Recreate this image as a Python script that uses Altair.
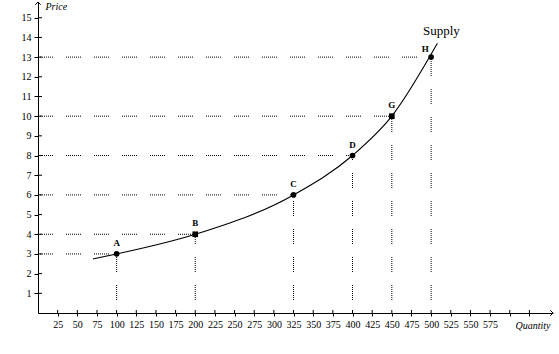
import altair as alt
import pandas as pd

# ---- data ----
point_labels = ["A", "B", "C", "D", "G", "H"]
point_quantity = [100, 200, 325, 400, 450, 500]
point_price = [3, 4, 6, 8, 10, 13]
point_marker = ["circle", "square", "circle", "circle", "square", "circle"]

curve_quantity = [70, 100, 200, 325, 400, 450, 508]
curve_price = [2.75, 3, 4, 6, 8, 10, 13.7]

x_ticks = list(range(25, 626, 25))
y_ticks = list(range(1, 16))

supply_text = ["Supply"]
supply_quantity = [513]
supply_price = [14.35]

X_MAX = 655
Y_MAX = 15.8
W, H = 515, 311
FONT = "Liberation Serif"

pts = pd.DataFrame({
    "label": point_labels, "q": point_quantity, "p": point_price,
    "shape": point_marker, "zero": [0] * len(point_labels),
})
curve = pd.DataFrame({"q": curve_quantity, "p": curve_price})
xt = pd.DataFrame({"q": x_ticks})
yt = pd.DataFrame({"p": y_ticks})
sup = pd.DataFrame({"text": supply_text, "q": supply_quantity, "p": supply_price})
corner = pd.DataFrame({"q": [0, X_MAX], "p": [Y_MAX, 0], "which": ["up", "right"]})

xs = alt.Scale(domain=[0, X_MAX], nice=False, zero=True)
ys = alt.Scale(domain=[0, Y_MAX], nice=False, zero=True)

x_axis = alt.Axis(values=x_ticks, labelExpr="datum.value <= 575 ? datum.label : ''",
                  tickSize=3, tickColor="black", domainColor="black", grid=False,
                  labelFont=FONT, labelFontSize=10, labelColor="black", labelPadding=3,
                  labelFlush=False, labelOverlap=False,
                  titleX=477, titleY=12, titleAlign="left",
                  titleBaseline="middle", titleFontStyle="italic", titleFontWeight="normal",
                  titleFont=FONT, titleFontSize=10, titleColor="black")
y_axis = alt.Axis(values=y_ticks, tickSize=4, tickColor="black", domainColor="black",
                  grid=False, labelFont=FONT, labelFontSize=10, labelColor="black",
                  labelPadding=3, labelFlush=False, labelOverlap=False,
                  titleAngle=0, titleX=7, titleY=4, titleAlign="left",
                  titleBaseline="middle", titleFontStyle="italic", titleFontWeight="normal",
                  titleFont=FONT, titleFontSize=10, titleColor="black")


def X(field):
    return alt.X(field, scale=xs, axis=x_axis, title="Quantity")


def Y(field):
    return alt.Y(field, scale=ys, axis=y_axis, title="Price")


dash = [1, 1] * 7 + [1, 13]

line = alt.Chart(curve).mark_line(color="black", strokeWidth=1.1, interpolate="monotone").encode(
    x=X("q:Q"), y=Y("p:Q"), order="q:Q",
)

hdots = alt.Chart(pts).mark_rule(color="black", strokeWidth=1, strokeDash=dash).encode(
    x=X("zero:Q"), x2="q:Q", y=Y("p:Q"),
)
vdots = alt.Chart(pts).mark_rule(color="black", strokeWidth=1, strokeDash=dash,
                                 strokeDashOffset=15).encode(
    x=X("q:Q"), y=Y("zero:Q"), y2="p:Q",
)

markers = alt.Chart(pts).mark_point(filled=True, color="black", size=32, opacity=1).encode(
    x=X("q:Q"), y=Y("p:Q"),
    shape=alt.Shape("shape:N", scale=None, legend=None),
)

labels = alt.Chart(pts).transform_filter("datum.label != 'H'").mark_text(
    font=FONT, fontSize=9, fontWeight="bold", color="black", dy=-11).encode(
    x=X("q:Q"), y=Y("p:Q"), text="label:N",
)
label_h = alt.Chart(pts).transform_filter("datum.label == 'H'").mark_text(
    font=FONT, fontSize=9, fontWeight="bold", color="black", dx=-6, dy=-8).encode(
    x=X("q:Q"), y=Y("p:Q"), text="label:N",
)

supply = alt.Chart(sup).mark_text(font=FONT, fontSize=13, color="black").encode(
    x=X("q:Q"), y=Y("p:Q"), text="text:N",
)

xtick_in = alt.Chart(xt).mark_rule(color="black", strokeWidth=1).encode(
    x=X("q:Q"), y=alt.value(H - 3), y2=alt.value(H),
)
ytick_in = alt.Chart(yt).mark_rule(color="black", strokeWidth=1).encode(
    y=Y("p:Q"), x=alt.value(0), x2=alt.value(4),
)

arrow_up = alt.Chart(corner).transform_filter("datum.which == 'up'").mark_point(
    shape="M-1,1L0,0L1,1", size=30, filled=False, color="black", strokeWidth=1, opacity=1).encode(
    x=X("q:Q"), y=Y("p:Q"),
)
arrow_right = alt.Chart(corner).transform_filter("datum.which == 'right'").mark_point(
    shape="M-1,-1L0,0L-1,1", size=30, filled=False, color="black", strokeWidth=1, opacity=1).encode(
    x=X("q:Q"), y=Y("p:Q"),
)

chart = alt.layer(
    line, hdots, vdots, markers, labels, label_h, supply,
    xtick_in, ytick_in, arrow_up, arrow_right,
).properties(
    width=W, height=H,
    autosize=alt.AutoSizeParams(type="none"),
    padding={"left": 38, "top": 2, "right": 6, "bottom": 41},
    background="white",
).configure_view(stroke=None)

chart.save("out.html", embed_options={"renderer": "svg", "actions": False})
